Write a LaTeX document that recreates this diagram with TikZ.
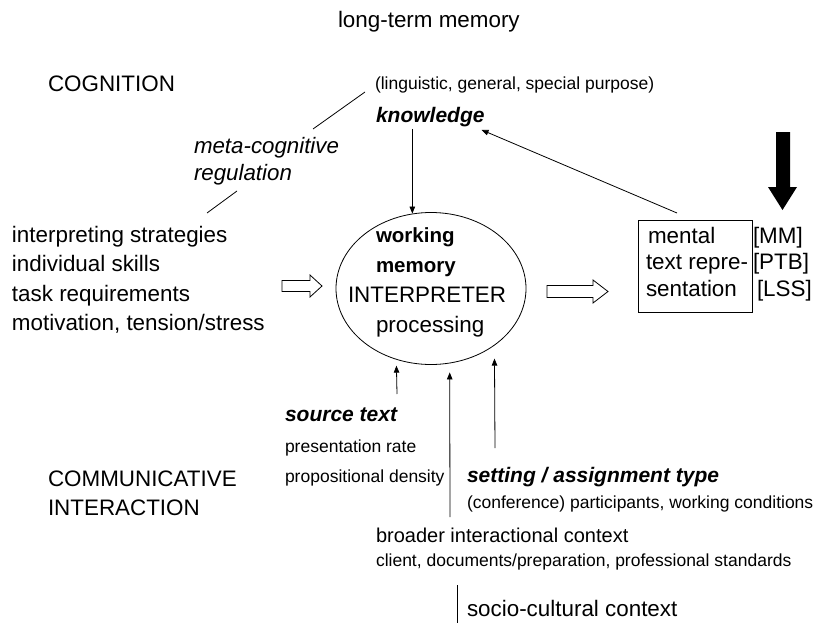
\documentclass[tikz,border=0pt]{standalone}
\usepackage{fontspec}
\setmainfont{Liberation Sans}
\usetikzlibrary{arrows.meta,shapes.geometric,calc}
\begin{document}
\begin{tikzpicture}[x=1pt,y=-1pt,
  lbl/.style={anchor=base west, inner sep=0pt, outer sep=0pt},
  big/.style={lbl, font=\fontsize{22.4}{27}\selectfont},
  bigb/.style={lbl, font=\fontsize{20.5}{25}\selectfont\bfseries},
  mid/.style={lbl, font=\fontsize{20}{24}\selectfont},
  small/.style={lbl, font=\fontsize{17.5}{21}\selectfont},
  ital/.style={lbl, font=\fontsize{22.3}{27}\selectfont\itshape},
  emph/.style={lbl, font=\fontsize{21}{25}\selectfont\bfseries\itshape},
  conn/.style={line width=0.8pt, -{Triangle[length=7pt,width=5.5pt]}},
  plain/.style={line width=0.8pt},
  hollow/.style={draw, line width=0.8pt, fill=white},
]
\useasboundingbox (0,0) rectangle (817,626);

% titles
\node[big] (ltm) at (338,28) {long-term memory};
\node[big] (cog) at (48,92) {COGNITION};
\node[big] (comm1) at (48,486) {COMMUNICATIVE};
\node[big] (comm2) at (48,515) {INTERACTION};

% knowledge
\node[small] (kinds) at (375,90) {(linguistic, general, special purpose)};
\node[emph] (know) at (376,122) {knowledge};

% meta-cognitive regulation
\node[ital] (meta1) at (194,153) {meta-cognitive};
\node[ital] (meta2) at (194,180) {regulation};

% left list
\node[big] (l1) at (12,242) {interpreting strategies};
\node[big] (l2) at (12,271.5) {individual skills};
\node[big] (l3) at (12,301) {task requirements};
\node[big] (l4) at (12,330.5) {motivation, tension/stress};

% working memory ellipse
\node[draw, ellipse, line width=0.8pt, minimum width=190, minimum height=152, inner sep=0pt] (wm) at (431,288.5) {};
\node[bigb] (w1) at (376,242) {working};
\node[bigb] (w2) at (376,272) {memory};
\node[big] (w3) at (348,302) {INTERPRETER};
\node[big] (w4) at (376,332) {processing};

% mental text representation box
\node[draw, line width=0.8pt, minimum width=114, minimum height=92, inner sep=0pt] (box) at (695,266) {};
\node[big] (b1) at (648,243) {mental};
\node[big] (b2) at (646,269) {text repre-};
\node[big] (b3) at (646,296) {sentation};
\node[big] (r1) at (753,243) {[MM]};
\node[big] (r2) at (753,269) {[PTB]};
\node[big] (r3) at (757,296) {[LSS]};

% source text
\node[emph] (src) at (285,421) {source text};
\node[small] (src1) at (285,452) {presentation rate};
\node[small] (src2) at (285,482) {propositional density};

% setting
\node[emph] (set) at (467,482) {setting / assignment type};
\node[small] (set1) at (467,508) {(conference) participants, working conditions};

% broader
\node[mid] (brd) at (376,542) {broader interactional context};
\node[small] (brd1) at (376,566) {client, documents/preparation, professional standards};

% socio-cultural
\node[big] (soc) at (467,616) {socio-cultural context};

% coordinates for free ends
\coordinate (m1a) at (365,92);
\coordinate (m1b) at (313,129);
\coordinate (m2a) at (237,191);
\coordinate (m2b) at (207,213);
\coordinate (fb) at (677,213);
\coordinate (a1s) at (397,394);
\coordinate (a2s) at (450,517);
\coordinate (a3s) at (495,448);
\coordinate (s1) at (457,585);
\coordinate (s2) at (457,623);

% connectors
\draw[plain] (m1a) -- (m1b);
\draw[plain] (m2a) -- (m2b);
\draw[conn] (know.south -| wm.104) ++(0,2.5) -- (wm.104);
\draw[conn] (fb) -- ($(know.south east)+(-3,3.5)$);
\draw[conn, shorten >=6pt] (a1s) -- (wm.244.4);
\draw[conn, shorten >=9pt] (a2s) -- (wm.284.3);
\draw[conn, shorten >=13pt] (a3s) -- (wm.318.7);
\draw[plain] (s1) -- (s2);

% hollow arrows
\draw[hollow] (282,280.5) -- (310,280.5) -- (310,275) -- (322,286) -- (310,297) -- (310,291.5) -- (282,291.5) -- cycle;
\draw[hollow] (547,285.5) -- (593,285.5) -- (593,280) -- (608,291.5) -- (593,303) -- (593,297.5) -- (547,297.5) -- cycle;

% black arrow
\fill[black] (776,132) -- (790,132) -- (790,187) -- (797,187) -- (782.5,210) -- (768,187) -- (776,187) -- cycle;
\end{tikzpicture}
\end{document}
